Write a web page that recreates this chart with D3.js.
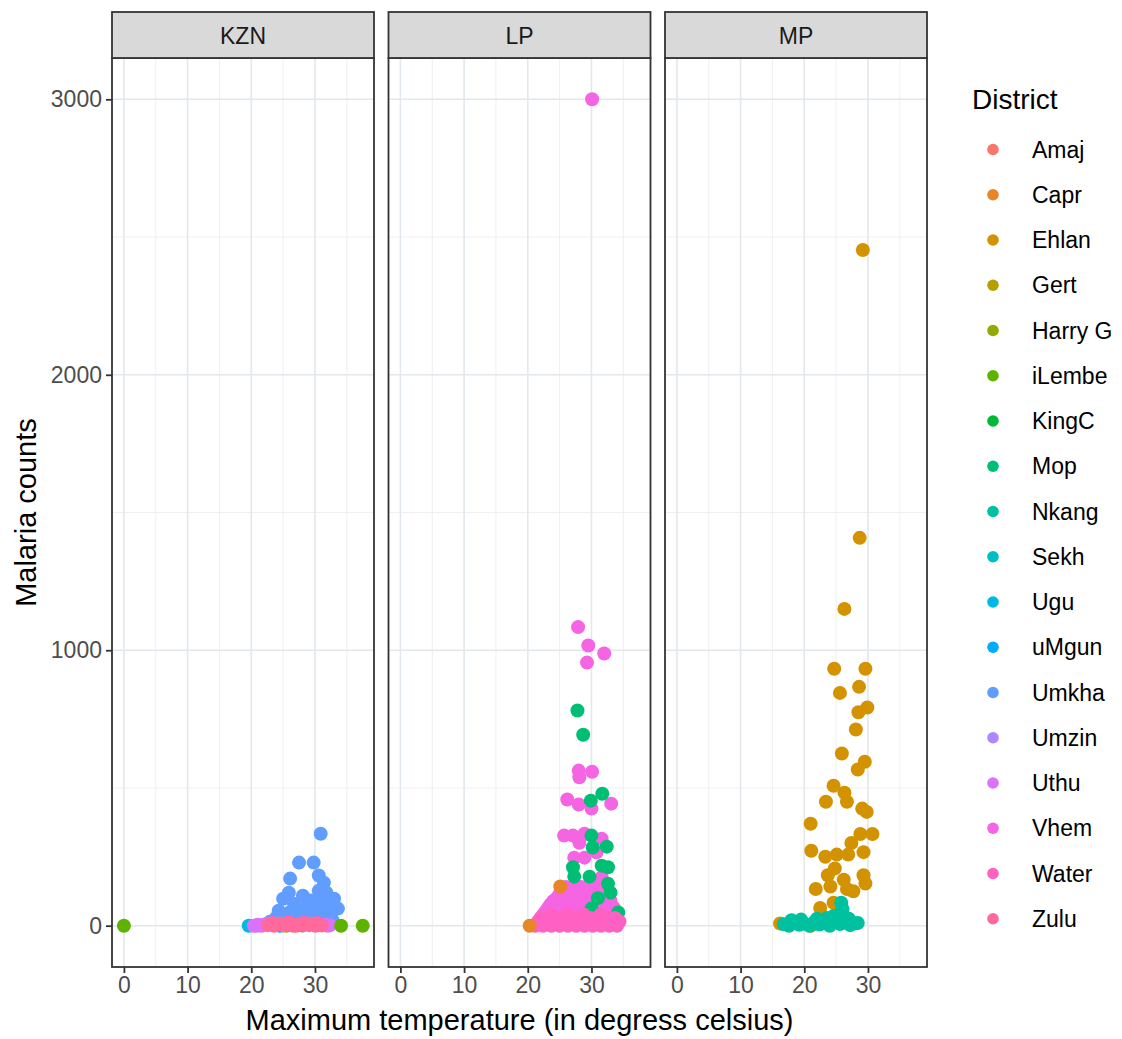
<!DOCTYPE html>
<html>
<head>
<meta charset="utf-8">
<script src="https://cdn.jsdelivr.net/npm/d3@7"></script>
<style>
  body { margin: 0; background: #fff; }
  text { font-family: "Liberation Sans", Arial, sans-serif; }
</style>
</head>
<body>
<script>
// facets and legend levels
const provinces = ["KZN", "LP", "MP"];
const districts = ["Amaj", "Capr", "Ehlan", "Gert", "Harry G", "iLembe", "KingC", "Mop", "Nkang",
  "Sekh", "Ugu", "uMgun", "Umkha", "Umzin", "Uthu", "Vhem", "Water", "Zulu"];
const districtColors = ["#F8766D", "#E88526", "#D39200", "#B79F00", "#93AA00", "#5EB300", "#00BA38",
  "#00BF74", "#00C19F", "#00BFC4", "#00B9E3", "#00ADFA", "#619CFF", "#AE87FF", "#DB72FB", "#F564E3",
  "#FF61C3", "#FF699C"];
const xTicks = [0, 10, 20, 30];
const yTicks = [0, 1000, 2000, 3000];

// [max temperature, malaria count]
// KZN
const kznHidden = [["Amaj", 27.0, 0], ["Harry G", 25.5, 0], ["KingC", 28.0, 1], ["uMgun", 24.5, 0]];
const kznUmkha = [[30.9,334],[27.5,229],[29.8,229],[26.1,171],[30.6,182],[31.4,156],[25.9,120],[28.1,109],
  [30.6,127],[25.0,98],[33.0,98],[29.4,91],[26.7,80],[24.3,54],[33.6,62],[32.0,65],[30.1,54],[28.3,54],
  [25.9,47],[27.3,36],[30.9,36],[32.5,36],[23.9,29],[25.1,29],[29.4,29],[31.2,95],[31.8,120],[27.0,60],
  [28.8,75],[26.5,25],[28.0,22],[31.5,20],[24.5,18],[32.8,18],[29.0,15],[22.9,14],[26.0,12],[30.3,12],
  [31.0,70],[32.2,80]];
const kznUgu = [[19.6,0]];
const kznUmzin = [[20.8,0],[21.3,2]];
const kznUthu = [[20.4,0],[21.0,3],[21.6,0],[22.2,5],[32.0,0],[31.5,4],[32.4,2]];
const kznZulu = [[22.6,2],[23.1,6],[23.6,0],[24.1,4],[24.6,8],[25.1,1],[25.6,5],[26.1,9],[26.6,0],[27.1,3],
  [27.6,7],[28.1,1],[28.6,6],[29.1,2],[29.6,8],[30.1,0],[30.6,4],[31.1,1],[23.3,10],[25.9,12],[28.3,11],[30.4,9]];
const kznILembe = [[0,0],[34.1,0],[37.5,0]];

// LP
const lpSekh = [[27.0,20]];
const lpVhem = [[30.1,3000],[27.9,1084],[29.5,1017],[32.0,988],[29.3,955],[28.0,563],[28.1,539],[30.1,559],
  [26.2,458],[28.0,440],[30.0,425],[33.1,443],[25.7,327],[27.1,327],[28.9,334],[28.1,301],[31.6,316],
  [27.3,247],[28.9,247],[30.8,266],[25.2,127],[31.6,175],[30.0,127],
  [26.0,140],[27.2,140],[28.4,140],[29.6,140],[30.8,140],
  [25.6,128],[26.9,128],[28.2,128],[29.0,128],[30.4,128],[31.8,128],
  [25.0,115],[26.3,115],[27.6,115],[28.8,115],[30.2,115],[31.4,115],[32.5,115],
  [24.6,102],[25.9,102],[27.2,102],[28.5,102],[29.8,102],[31.1,102],[32.4,102],
  [24.0,90],[25.3,90],[26.6,90],[27.9,90],[29.2,90],[30.5,90],[31.8,90],[33.0,90],
  [23.6,78],[24.9,78],[26.2,78],[27.5,78],[28.8,78],[30.1,78],[31.4,78],[32.7,78],
  [23.2,65],[24.4,65],[25.7,65],[27.0,65],[28.3,65],[29.6,65],[30.9,65],[32.2,65],[33.5,65],
  [22.8,52],[24.0,52],[25.3,52],[26.6,52],[27.9,52],[29.2,52],[30.5,52],[31.8,52],[33.1,52],
  [22.4,40],[24.9,40],[27.5,40],[30.1,40],[32.7,40],[33.9,40]];
const lpMop = [[27.8,781],[28.7,693],[31.7,479],[29.9,454],[30.0,327],[32.4,287],[30.2,284],[27.1,212],
  [31.6,218],[32.6,212],[27.3,178],[29.7,178],[32.6,152],[34.2,48],[30.0,62],[33.0,120],[31.0,100],[32.8,20]];
const lpWater = [[23.6,40],[26.2,40],[28.8,40],[31.4,40],
  [22.0,28],[23.3,28],[24.6,28],[25.9,28],[27.2,28],[28.5,28],[29.8,28],[31.1,28],[32.4,28],[33.7,28],
  [21.6,15],[22.8,15],[24.1,15],[25.4,15],[26.7,15],[28.0,15],[29.3,15],[30.6,15],[31.9,15],[33.2,15],[34.4,15],
  [21.2,0],[22.4,0],[23.7,0],[25.0,0],[26.3,0],[27.6,0],[28.9,0],[30.2,0],[31.5,0],[32.8,0],[34.0,0]];
const lpCapr = [[20.3,0],[25.1,142]];

// MP
const mpGert = [[21.0,0]];
const mpEhlan = [[29.2,2453],[28.7,1408],[26.3,1150],[24.7,933],[29.6,933],[25.6,845],[28.6,867],[28.5,775],
  [29.9,792],[28.1,712],[25.9,625],[29.5,595],[28.4,567],[24.6,508],[26.3,483],[26.7,450],[23.4,450],
  [29.1,425],[29.8,413],[21.0,370],[30.7,333],[28.8,333],[27.4,300],[29.3,267],[21.1,272],[23.3,250],
  [25.1,258],[26.9,258],[24.8,208],[23.7,183],[26.2,167],[29.3,183],[29.6,153],[21.8,133],[24.1,142],
  [26.7,133],[27.7,125],[22.5,64],[24.6,83],[16.2,8]];
const mpNkang = [[16.8,5],[17.6,0],[18.4,12],[19.2,3],[20.0,8],[20.8,0],[21.6,14],[22.4,4],[23.2,10],[24.0,0],
  [24.8,16],[25.6,6],[26.4,12],[27.2,2],[27.8,8],[25.4,40],[26.0,60],[25.8,83],[26.3,30],[24.6,35],[22.0,25],
  [19.5,22],[23.5,28],[27.0,25],[18.0,20],[28.4,10]];

// build rows in drawing order
const rows = [];
function addRows(province, district, arr) {
  arr.forEach(d => rows.push({ province: province, district: district, temp: d[0], count: d[1] }));
}
kznHidden.forEach(d => rows.push({ province: "KZN", district: d[0], temp: d[1], count: d[2] }));
addRows("KZN", "Umkha", kznUmkha);
addRows("KZN", "Ugu", kznUgu);
addRows("KZN", "Umzin", kznUmzin);
addRows("KZN", "Uthu", kznUthu);
addRows("KZN", "Zulu", kznZulu);
addRows("KZN", "iLembe", kznILembe);
addRows("LP", "Sekh", lpSekh);
addRows("LP", "Vhem", lpVhem);
addRows("LP", "Mop", lpMop);
addRows("LP", "Water", lpWater);
addRows("LP", "Capr", lpCapr);
addRows("MP", "Gert", mpGert);
addRows("MP", "Ehlan", mpEhlan);
addRows("MP", "Nkang", mpNkang);

const W = 1122, H = 1039;
const panelTop = 58, panelBottom = 967, stripTop = 12;
const panelLeft = 112, panelW = 262, panelGap = 14.5;
const font = "'Liberation Sans', Arial, sans-serif";

const svg = d3.select("body").append("svg").attr("width", W).attr("height", H);

const x = d3.scaleLinear().domain([-1.87, 39.27]).range([0, panelW]);
const y = d3.scaleLinear().domain([-150, 3150]).range([panelBottom, panelTop]);
const color = d3.scaleOrdinal().domain(districts).range(districtColors);

const xMinor = [5, 15, 25, 35];
const yMinor = [500, 1500, 2500];

provinces.forEach((p, i) => {
  const g = svg.append("g").attr("transform", `translate(${panelLeft + i * (panelW + panelGap)},0)`);

  // grid
  g.selectAll(".xminor").data(xMinor).enter().append("line")
    .attr("x1", d => x(d)).attr("x2", d => x(d)).attr("y1", panelTop).attr("y2", panelBottom)
    .attr("stroke", "#ebebeb").attr("stroke-width", 0.8);
  g.selectAll(".yminor").data(yMinor).enter().append("line")
    .attr("x1", 0).attr("x2", panelW).attr("y1", d => y(d)).attr("y2", d => y(d))
    .attr("stroke", "#ebebeb").attr("stroke-width", 0.8);
  g.selectAll(".xmajor").data(xTicks).enter().append("line")
    .attr("x1", d => x(d)).attr("x2", d => x(d)).attr("y1", panelTop).attr("y2", panelBottom)
    .attr("stroke", "#e2e8ed").attr("stroke-width", 1.6);
  g.selectAll(".ymajor").data(yTicks).enter().append("line")
    .attr("x1", 0).attr("x2", panelW).attr("y1", d => y(d)).attr("y2", d => y(d))
    .attr("stroke", "#e2e8ed").attr("stroke-width", 1.6);

  // points
  g.selectAll("circle").data(rows.filter(r => r.province === p)).enter().append("circle")
    .attr("cx", d => x(d.temp)).attr("cy", d => y(d.count)).attr("r", 7)
    .attr("fill", d => color(d.district));

  // panel border
  g.append("rect").attr("x", 0).attr("y", panelTop).attr("width", panelW).attr("height", panelBottom - panelTop)
    .attr("fill", "none").attr("stroke", "#333333").attr("stroke-width", 1.8);

  // strip
  g.append("rect").attr("x", 0).attr("y", stripTop).attr("width", panelW).attr("height", panelTop - stripTop)
    .attr("fill", "#d9d9d9").attr("stroke", "#333333").attr("stroke-width", 1.8);
  g.append("text").attr("x", panelW / 2).attr("y", (stripTop + panelTop) / 2 + 8.5)
    .attr("text-anchor", "middle").attr("font-size", 23).attr("fill", "#1a1a1a").text(p);

  // x axis
  const xa = g.append("g").attr("transform", `translate(0,${panelBottom})`)
    .call(d3.axisBottom(x).tickValues(xTicks).tickSize(6).tickPadding(4).tickFormat(d3.format("d")));
  xa.select(".domain").remove();
  xa.selectAll("line").attr("stroke", "#333333").attr("stroke-width", 1.8);
  xa.selectAll("text").attr("font-size", 23).attr("fill", "#4d4d4d").style("font-family", font);
});

// y axis on the first panel
const ya = svg.append("g").attr("transform", `translate(${panelLeft},0)`)
  .call(d3.axisLeft(y).tickValues(yTicks).tickSize(6).tickPadding(4).tickFormat(d3.format("d")));
ya.select(".domain").remove();
ya.selectAll("line").attr("stroke", "#333333").attr("stroke-width", 1.8);
ya.selectAll("text").attr("font-size", 23).attr("fill", "#4d4d4d").style("font-family", font);

// axis titles
svg.append("text").attr("x", panelLeft + (3 * panelW + 2 * panelGap) / 2).attr("y", 1030)
  .attr("text-anchor", "middle").attr("font-size", 29).attr("fill", "#000")
  .text("Maximum temperature (in degress celsius)");
svg.append("text").attr("transform", `translate(36,${(panelTop + panelBottom) / 2}) rotate(-90)`)
  .attr("text-anchor", "middle").attr("font-size", 29).attr("fill", "#000")
  .text("Malaria counts");

// legend
const legend = svg.append("g").attr("transform", "translate(972,0)");
legend.append("text").attr("x", 0).attr("y", 109).attr("font-size", 28).attr("fill", "#000").text("District");
const items = legend.selectAll(".item").data(districts).enter().append("g")
  .attr("transform", (d, i) => `translate(0,${149.5 + i * 45.25})`);
items.append("circle").attr("cx", 21).attr("cy", 0).attr("r", 5.8).attr("fill", d => color(d));
items.append("text").attr("x", 60).attr("y", 8).attr("font-size", 23).attr("fill", "#000").text(d => d);
</script>
</body>
</html>
